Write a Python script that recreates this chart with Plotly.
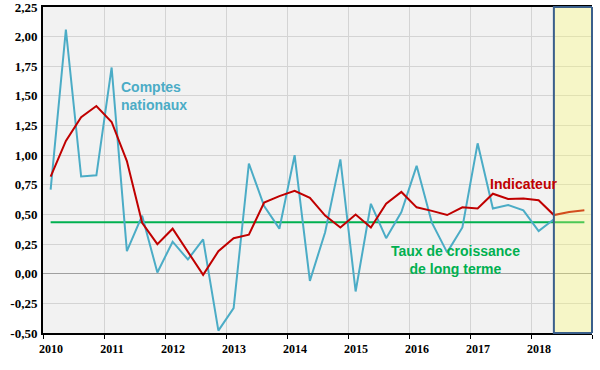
import plotly.graph_objects as go

# ---- data ----
years = list(range(2010, 2019))
quarters = [f"{y}T{q}" for y in years for q in range(1, 5)]

comptes_nationaux = [0.71, 2.06, 0.82, 0.83, 1.74, 0.19, 0.49, 0.01,
                     0.27, 0.12, 0.29, -0.48, -0.29, 0.93, 0.57, 0.38,
                     1.00, -0.06, 0.35, 0.965, -0.15, 0.59, 0.30, 0.52,
                     0.91, 0.43, 0.18, 0.39, 1.10, 0.55, 0.58, 0.535,
                     0.36, 0.46]

indicateur = [0.82, 1.12, 1.32, 1.415, 1.28, 0.95, 0.43, 0.25,
              0.38, 0.19, -0.01, 0.19, 0.30, 0.33, 0.60, 0.655,
              0.70, 0.64, 0.49, 0.39, 0.50, 0.39, 0.59, 0.69,
              0.56, 0.53, 0.495, 0.56, 0.55, 0.675, 0.63, 0.635,
              0.62, 0.495, 0.52, 0.535]

taux_long_terme = [0.435] * len(quarters)

y_tick_vals = [-0.5, -0.25, 0.0, 0.25, 0.5, 0.75, 1.0, 1.25, 1.5, 1.75, 2.0, 2.25]
y_tick_text = ["-0,50", "-0,25", "0,00", "0,25", "0,50", "0,75", "1,00",
               "1,25", "1,50", "1,75", "2,00", "2,25"]
x_tick_vals = years + [years[-1] + 1]
x_tick_text = [str(y) for y in years] + [""]

# quarter label -> position (middle of the quarter on a year scale)
x_pos = [int(s[:4]) + (int(s[-1]) - 0.5) / 4 for s in quarters]

BLUE = "#4BACC6"
RED = "#C00000"
GREEN = "#00B050"
FRAME = "#3A5F8B"

fig = go.Figure()
fig.add_trace(go.Scatter(x=x_pos, y=taux_long_terme, mode="lines",
                         line=dict(color=GREEN, width=2), hoverinfo="skip"))
fig.add_trace(go.Scatter(x=x_pos[:len(comptes_nationaux)], y=comptes_nationaux,
                         mode="lines", line=dict(color=BLUE, width=2)))
fig.add_trace(go.Scatter(x=x_pos, y=indicateur, mode="lines",
                         line=dict(color=RED, width=2)))

# forecast zone (shaded)
fig.add_shape(type="rect", xref="x", yref="paper",
              x0=x_pos[len(comptes_nationaux) - 1], x1=years[-1] + 1, y0=0, y1=1,
              fillcolor="rgba(255,255,100,0.3)",
              line=dict(color=FRAME, width=2), layer="above")
fig.add_shape(type="line", xref="paper", yref="paper", x0=1, x1=1, y0=0, y1=1,
              line=dict(color=FRAME, width=2), layer="above")

lab_font = dict(family="Liberation Sans, Arial", size=14, weight="bold")
fig.add_annotation(x=2011.24, y=1.50, xref="x", yref="y",
                   text="Comptes<br>nationaux", showarrow=False,
                   xanchor="left", align="left",
                   font=dict(color=BLUE, **lab_font))
fig.add_annotation(x=2017.30, y=0.755, xref="x", yref="y",
                   text="Indicateur", showarrow=False, xanchor="left",
                   font=dict(color=RED, **lab_font))
fig.add_annotation(x=2016.77, y=0.12, xref="x", yref="y",
                   text="Taux de croissance<br>de long terme", showarrow=False,
                   xanchor="center", align="center",
                   font=dict(color=GREEN, **lab_font))

tick_font = dict(family="Liberation Serif, Times New Roman", color="black", weight="bold")

fig.update_layout(
    width=600, height=370,
    margin=dict(l=43, r=8, t=7, b=37, autoexpand=False),
    paper_bgcolor="white",
    plot_bgcolor="#F2F2F2",
    showlegend=False,
    xaxis=dict(range=[years[0], years[-1] + 1], tickmode="array",
               tickvals=x_tick_vals, ticktext=x_tick_text,
               ticks="outside", ticklen=4, tickcolor="black", tickwidth=1,
               ticklabelshift=8, automargin=False,
               showgrid=True, gridcolor="#D4D4D4", gridwidth=1,
               showline=True, linecolor="black", linewidth=2, mirror=True,
               zeroline=False, tickfont=dict(size=12, **tick_font)),
    yaxis=dict(range=[-0.5, 2.25], tickmode="array",
               tickvals=y_tick_vals, ticktext=y_tick_text,
               ticks="", showgrid=True, gridcolor="#D4D4D4", gridwidth=1,
               zeroline=True, zerolinecolor="#A0A0A0", zerolinewidth=1,
               showline=True, linecolor="black", linewidth=2,
               automargin=False, ticklabelstandoff=1,
               ticklabeloverflow="allow",
               tickfont=dict(size=13, **tick_font)),
)

fig.write_html("out.html", config={"displayModeBar": False},
               post_script="document.body.style.margin='0px';")
